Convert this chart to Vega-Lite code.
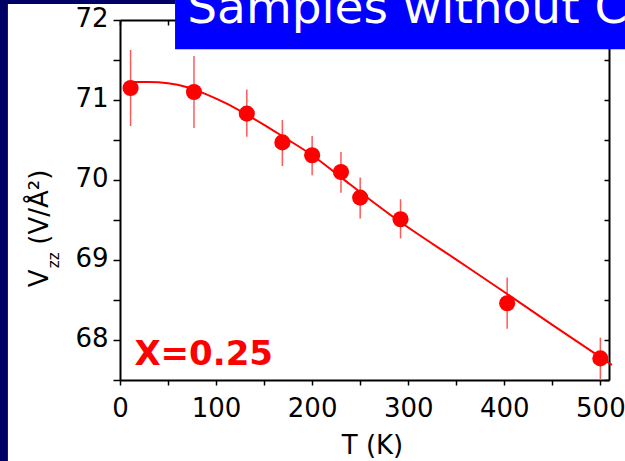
{
  "$schema": "https://vega.github.io/schema/vega-lite/v6.json",
  "autosize": {"type": "none"},
  "width": 489,
  "height": 360,
  "padding": {"left": 120, "top": 20, "right": 16, "bottom": 81},
  "background": "white",
  "datasets": {
    "pts": [
      {"T": 11, "V": 71.15, "lo": 70.675, "hi": 71.625},
      {"T": 77, "V": 71.10, "lo": 70.65, "hi": 71.55},
      {"T": 132, "V": 70.83, "lo": 70.54, "hi": 71.13},
      {"T": 169, "V": 70.47, "lo": 70.175, "hi": 70.75},
      {"T": 200, "V": 70.31, "lo": 70.06, "hi": 70.55},
      {"T": 230, "V": 70.10, "lo": 69.84, "hi": 70.35},
      {"T": 250, "V": 69.78, "lo": 69.52, "hi": 70.03},
      {"T": 292, "V": 69.51, "lo": 69.27, "hi": 69.76},
      {"T": 403, "V": 68.46, "lo": 68.14, "hi": 68.78},
      {"T": 500, "V": 67.77, "lo": 67.5, "hi": 68.03}
    ],
    "fit": [
      {"T": 10, "V": 71.225},
      {"T": 30, "V": 71.225},
      {"T": 50, "V": 71.21},
      {"T": 70, "V": 71.16},
      {"T": 90, "V": 71.07},
      {"T": 110, "V": 70.96},
      {"T": 130, "V": 70.83},
      {"T": 150, "V": 70.69},
      {"T": 170, "V": 70.54},
      {"T": 200, "V": 70.31},
      {"T": 240, "V": 69.94},
      {"T": 290, "V": 69.49},
      {"T": 350, "V": 69.005},
      {"T": 400, "V": 68.6},
      {"T": 450, "V": 68.19},
      {"T": 512, "V": 67.69}
    ],
    "one": [{}]
  },
  "resolve": {"axis": {"x": "independent", "y": "independent"}},
  "layer": [
    {
      "data": {"name": "pts"},
      "mark": {"type": "rule", "color": "#ff5a5a", "strokeWidth": 1.5},
      "encoding": {
        "x": {"field": "T", "type": "quantitative",
              "scale": {"domain": [0, 509], "nice": false, "zero": false},
              "axis": {"orient": "bottom", "title": "T (K)", "values": [0,50,100,150,200,250,300,350,400,450,500],
                       "format": "d", "labelExpr": "datum.value % 100 === 0 ? datum.label : ''",
                       "tickSize": 5, "labelPadding": 10, "labelFlush": false,
                       "titleX": 252, "titleY": 73, "titleBaseline": "alphabetic", "titleAlign": "center"}},
        "y": {"field": "lo", "type": "quantitative",
              "scale": {"domain": [67.5, 72], "nice": false, "zero": false},
              "axis": {"orient": "left", "title": "V\u00a0\u00a0\u00a0(V/Å²)", "values": [67.5,68,68.5,69,69.5,70,70.5,71,71.5,72],
                       "format": ".0f", "labelExpr": "datum.value % 1 === 0 ? datum.label : ''",
                       "tickSize": 7, "labelPadding": 5, "labelFlush": false, "labelOffset": -2,
                       "titleAngle": -90, "titleX": -73, "titleY": 208, "titleBaseline": "alphabetic", "titleAlign": "center"}},
        "y2": {"field": "hi"}
      }
    },
    {
      "data": {"name": "fit"},
      "mark": {"type": "line", "color": "#ff0000", "strokeWidth": 2, "interpolate": "monotone"},
      "encoding": {
        "x": {"field": "T", "type": "quantitative",
              "scale": {"domain": [0, 509], "nice": false, "zero": false},
              "axis": {"orient": "top", "title": null, "labels": false, "values": [0,50,100,150,200,250,300,350,400,450,500], "tickSize": -5}},
        "y": {"field": "V", "type": "quantitative",
              "scale": {"domain": [67.5, 72], "nice": false, "zero": false},
              "axis": {"orient": "right", "title": null, "labels": false, "values": [67.5,68,68.5,69,69.5,70,70.5,71,71.5,72], "tickSize": -5}}
      }
    },
    {
      "data": {"name": "pts"},
      "mark": {"type": "circle", "color": "#ff0000", "opacity": 1, "size": 260},
      "encoding": {
        "x": {"field": "T", "type": "quantitative", "scale": {"domain": [0, 509], "nice": false, "zero": false}, "axis": null},
        "y": {"field": "V", "type": "quantitative", "scale": {"domain": [67.5, 72], "nice": false, "zero": false}, "axis": null}
      }
    },
    {
      "data": {"name": "one"},
      "mark": {"type": "text", "text": "X=0.25", "font": "DejaVu Sans", "fontWeight": "bold", "fontSize": 34, "color": "#ff0000", "align": "left", "baseline": "alphabetic"},
      "encoding": {
        "x": {"datum": 15, "type": "quantitative", "scale": {"domain": [0, 509], "nice": false, "zero": false}, "axis": null},
        "y": {"datum": 67.69, "type": "quantitative", "scale": {"domain": [67.5, 72], "nice": false, "zero": false}, "axis": null}
      }
    },
    {
      "data": {"name": "one"},
      "mark": {"type": "text", "text": "zz", "font": "DejaVu Sans", "fontSize": 15, "color": "black", "align": "center", "baseline": "alphabetic", "angle": 270},
      "encoding": {
        "x": {"datum": -63.5, "type": "quantitative", "scale": {"domain": [0, 509], "nice": false, "zero": false}, "axis": null},
        "y": {"datum": 68.996, "type": "quantitative", "scale": {"domain": [67.5, 72], "nice": false, "zero": false}, "axis": null}
      }
    },
    {
      "data": {"name": "one"},
      "mark": {"type": "rect", "color": "#000066"},
      "encoding": {
        "x": {"datum": -130, "type": "quantitative", "scale": {"domain": [0, 509], "nice": false, "zero": false}, "axis": null},
        "x2": {"datum": -116.67},
        "y": {"datum": 72.5, "type": "quantitative", "scale": {"domain": [67.5, 72], "nice": false, "zero": false}, "axis": null},
        "y2": {"datum": 66}
      }
    },
    {
      "data": {"name": "one"},
      "mark": {"type": "rect", "color": "#000066"},
      "encoding": {
        "x": {"datum": -130, "type": "quantitative", "scale": {"domain": [0, 509], "nice": false, "zero": false}, "axis": null},
        "x2": {"datum": 57.3},
        "y": {"datum": 72.5, "type": "quantitative", "scale": {"domain": [67.5, 72], "nice": false, "zero": false}, "axis": null},
        "y2": {"datum": 72.2}
      }
    },
    {
      "data": {"name": "one"},
      "mark": {"type": "rect", "color": "#0000ff"},
      "encoding": {
        "x": {"datum": 57.3, "type": "quantitative", "scale": {"domain": [0, 509], "nice": false, "zero": false}, "axis": null},
        "x2": {"datum": 560},
        "y": {"datum": 72.5, "type": "quantitative", "scale": {"domain": [67.5, 72], "nice": false, "zero": false}, "axis": null},
        "y2": {"datum": 71.634}
      }
    },
    {
      "data": {"name": "one"},
      "mark": {"type": "text", "text": "Samples without C", "font": "DejaVu Sans", "fontSize": 47, "color": "white", "align": "left", "baseline": "alphabetic"},
      "encoding": {
        "x": {"datum": 70, "type": "quantitative", "scale": {"domain": [0, 509], "nice": false, "zero": false}, "axis": null},
        "y": {"datum": 71.959, "type": "quantitative", "scale": {"domain": [67.5, 72], "nice": false, "zero": false}, "axis": null}
      }
    }
  ],
  "config": {
    "view": {"stroke": null},
    "axis": {
      "grid": false,
      "domainColor": "black", "domainWidth": 2,
      "tickColor": "black", "tickWidth": 1.5,
      "labelColor": "black", "labelFont": "DejaVu Sans", "labelFontSize": 26,
      "titleColor": "black", "titleFont": "DejaVu Sans", "titleFontSize": 26, "titleFontWeight": "normal"
    }
  }
}
